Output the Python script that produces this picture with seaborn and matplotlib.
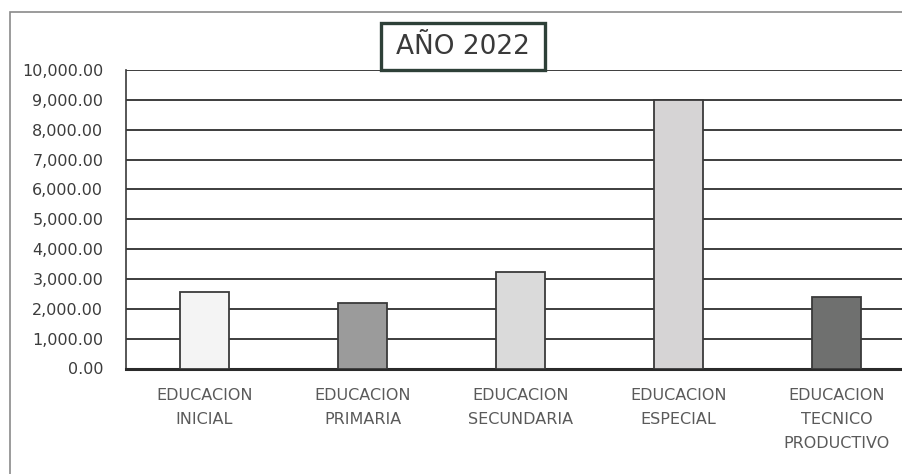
import seaborn as sns
import matplotlib.pyplot as plt
import pandas as pd
from matplotlib.patches import Rectangle
from matplotlib.ticker import FuncFormatter

categorias = ['EDUCACION\nINICIAL', 'EDUCACION\nPRIMARIA', 'EDUCACION\nSECUNDARIA',
              'EDUCACION\nESPECIAL', 'EDUCACION\nTECNICO\nPRODUCTIVO']
montos = [2560, 2190, 3230, 8990, 2390]
colores = ['#f4f4f4', '#9b9b9b', '#dadada', '#d6d4d5', '#6f706f']

df = pd.DataFrame({'nivel': categorias, 'monto': montos})

sns.set_style('white')
plt.rcParams['font.family'] = ['DejaVu Sans']

fig = plt.figure(figsize=(9.03, 4.74), dpi=100)
ax = fig.add_axes([125.5 / 903, 1 - 368.5 / 474, 790 / 903, 298.5 / 474])

sns.barplot(x='nivel', y='monto', data=df, hue='nivel', palette=colores,
            legend=False, width=0.31, edgecolor='#3a3a3a', linewidth=1.3,
            zorder=3, ax=ax)

ax.set_ylim(0, 10000)
ax.set_xlim(-0.5, 4.5)
ax.set_yticks(range(0, 10001, 1000))
ax.yaxis.set_major_formatter(FuncFormatter(lambda v, p: f'{v:,.2f}'))
ax.grid(axis='y', color='#2e2e2e', linewidth=1.3, zorder=0)
ax.set_axisbelow(True)
ax.set_xlabel('')
ax.set_ylabel('')

for s in ['top', 'right']:
    ax.spines[s].set_visible(False)
ax.spines['left'].set_color('#3a3a3a')
ax.spines['left'].set_linewidth(1.2)
ax.spines['bottom'].set_color('#2a2a2a')
ax.spines['bottom'].set_linewidth(2.2)

ax.tick_params(axis='y', length=0, pad=16, labelsize=11.5, labelcolor='#3c3c3c')
ax.tick_params(axis='x', length=0, pad=14, labelsize=11.5, labelcolor='#5a5a5a')
for lbl in ax.get_xticklabels():
    lbl.set_linespacing(1.75)

# marco exterior del grafico
fig.patches.append(Rectangle((10.5 / 903, -0.1), 1.2, 1.1 - 11.7 / 474,
                             transform=fig.transFigure, fill=False,
                             edgecolor='#8a8a8a', linewidth=1.2))

# recuadro del titulo
fig.patches.append(Rectangle((381 / 903, 1 - 70 / 474), 164 / 903, 47 / 474,
                             transform=fig.transFigure, facecolor='white',
                             edgecolor='#2e4038', linewidth=2.4, zorder=5))
fig.text(463 / 903, 1 - 47 / 474, 'AÑO 2022', fontsize=19,
         color='#3a3a3a', ha='center', va='center', zorder=6)

fig.savefig('out.png', dpi=100)
